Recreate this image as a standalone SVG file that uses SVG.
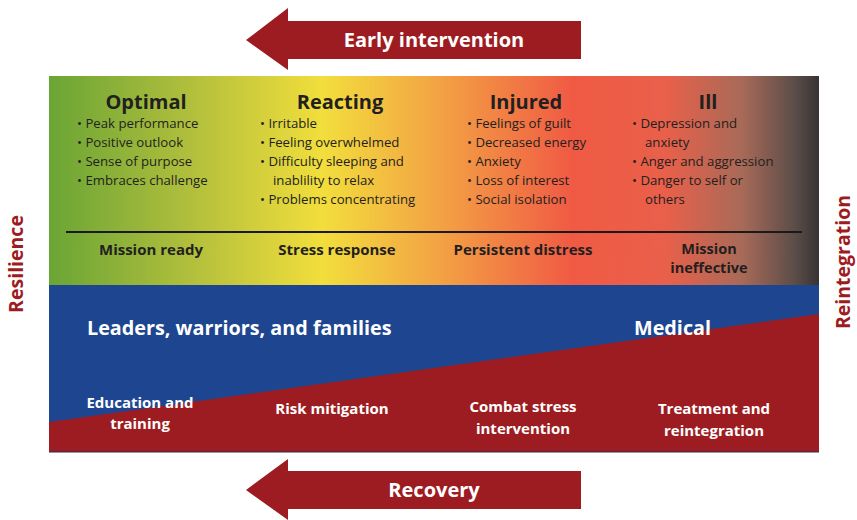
<svg xmlns="http://www.w3.org/2000/svg" width="857" height="520" viewBox="0 0 857 520">
<defs>
<linearGradient id="stress" x1="49" y1="0" x2="819" y2="0" gradientUnits="userSpaceOnUse">
<stop offset="0" stop-color="#6aa535"/>
<stop offset="0.18" stop-color="#b0be3c"/>
<stop offset="0.355" stop-color="#f2de3c"/>
<stop offset="0.5" stop-color="#f3a544"/>
<stop offset="0.68" stop-color="#f05a44"/>
<stop offset="0.8" stop-color="#e9604a"/>
<stop offset="0.9" stop-color="#a86a58"/>
<stop offset="0.97" stop-color="#5a4c48"/>
<stop offset="1" stop-color="#383334"/>
</linearGradient>
<style>
text{font-family:"Open Sans","Liberation Sans",sans-serif;}
.h{font-size:20px;font-weight:bold;fill:#231f20;text-anchor:middle;}
.b{font-size:13.2px;fill:#231f20;}
.s{font-size:15px;font-weight:bold;fill:#231f20;text-anchor:middle;}
.s2{font-size:14.5px;font-weight:bold;fill:#231f20;text-anchor:middle;}
.w{font-size:15px;font-weight:bold;fill:#ffffff;text-anchor:middle;}
.wl{font-size:19.8px;font-weight:bold;fill:#ffffff;}
.side{font-size:19.5px;font-weight:bold;fill:#9d1c22;text-anchor:middle;}
.arr{fill:#9d1c21;}
.at{font-size:20px;font-weight:bold;fill:#ffffff;text-anchor:middle;}
</style>
</defs>

<g id="early-intervention">
<polygon class="arr" points="246,40 288,8 288,21 581,21 581,59 288,59 288,70"/>
<text class="at" x="434" y="47">Early intervention</text>
</g>

<g id="stress-band">
<rect x="49" y="76" width="770" height="209" fill="url(#stress)"/>
<line x1="66" y1="232" x2="802" y2="232" stroke="#1a1a1a" stroke-width="2"/>
</g>

<g id="optimal">
<text class="h" x="146" y="109">Optimal</text>
<text class="b" x="77" y="128">• Peak performance</text>
<text class="b" x="77" y="147">• Positive outlook</text>
<text class="b" x="77" y="166">• Sense of purpose</text>
<text class="b" x="77" y="185">• Embraces challenge</text>
<text class="s" x="151" y="255">Mission ready</text>
</g>

<g id="reacting">
<text class="h" x="340" y="109">Reacting</text>
<text class="b" x="260" y="128">• Irritable</text>
<text class="b" x="260" y="147">• Feeling overwhelmed</text>
<text class="b" x="260" y="166">• Difficulty sleeping and</text>
<text class="b" x="273" y="185">inablility to relax</text>
<text class="b" x="260" y="204">• Problems concentrating</text>
<text class="s" x="337" y="255">Stress response</text>
</g>

<g id="injured">
<text class="h" x="526" y="109">Injured</text>
<text class="b" x="467" y="128">• Feelings of guilt</text>
<text class="b" x="467" y="147">• Decreased energy</text>
<text class="b" x="467" y="166">• Anxiety</text>
<text class="b" x="467" y="185">• Loss of interest</text>
<text class="b" x="467" y="204">• Social isolation</text>
<text class="s" x="523" y="255">Persistent distress</text>
</g>

<g id="ill">
<text class="h" x="708" y="109">Ill</text>
<text class="b" x="632" y="128">• Depression and</text>
<text class="b" x="645" y="147">anxiety</text>
<text class="b" x="632" y="166">• Anger and aggression</text>
<text class="b" x="632" y="185">• Danger to self or</text>
<text class="b" x="645" y="204">others</text>
<text class="s2" x="709" y="254">Mission</text>
<text class="s2" x="709" y="273">ineffective</text>
</g>

<g id="care-band">
<rect x="49" y="285" width="770" height="167" fill="#1e4690"/>
<polygon points="49,422 819,314 819,452 49,452" fill="#9d1c21"/>
<line x1="49" y1="452" x2="819" y2="452" stroke="#2a2a5a" stroke-width="1"/>
</g>

<g id="leaders">
<text class="wl" x="87" y="335">Leaders, warriors, and families</text>
</g>
<g id="medical">
<text class="wl" x="634" y="335">Medical</text>
</g>

<g id="education">
<text class="w" x="140" y="408">Education and</text>
<text class="w" x="140" y="429">training</text>
</g>
<g id="risk">
<text class="w" x="332" y="414">Risk mitigation</text>
</g>
<g id="combat">
<text class="w" x="523" y="412">Combat stress</text>
<text class="w" x="523" y="434">intervention</text>
</g>
<g id="treatment">
<text class="w" x="714" y="414">Treatment and</text>
<text class="w" x="714" y="436">reintegration</text>
</g>

<g id="resilience">
<text class="side" transform="translate(23,264) rotate(-90)">Resilience</text>
</g>
<g id="reintegration">
<text class="side" transform="translate(850,262) rotate(-90)">Reintegration</text>
</g>

<g id="recovery">
<polygon class="arr" points="246,490 288,459 288,471 581,471 581,509 288,509 288,520"/>
<text class="at" x="434" y="497">Recovery</text>
</g>

<g id="connectors"></g>
</svg>
